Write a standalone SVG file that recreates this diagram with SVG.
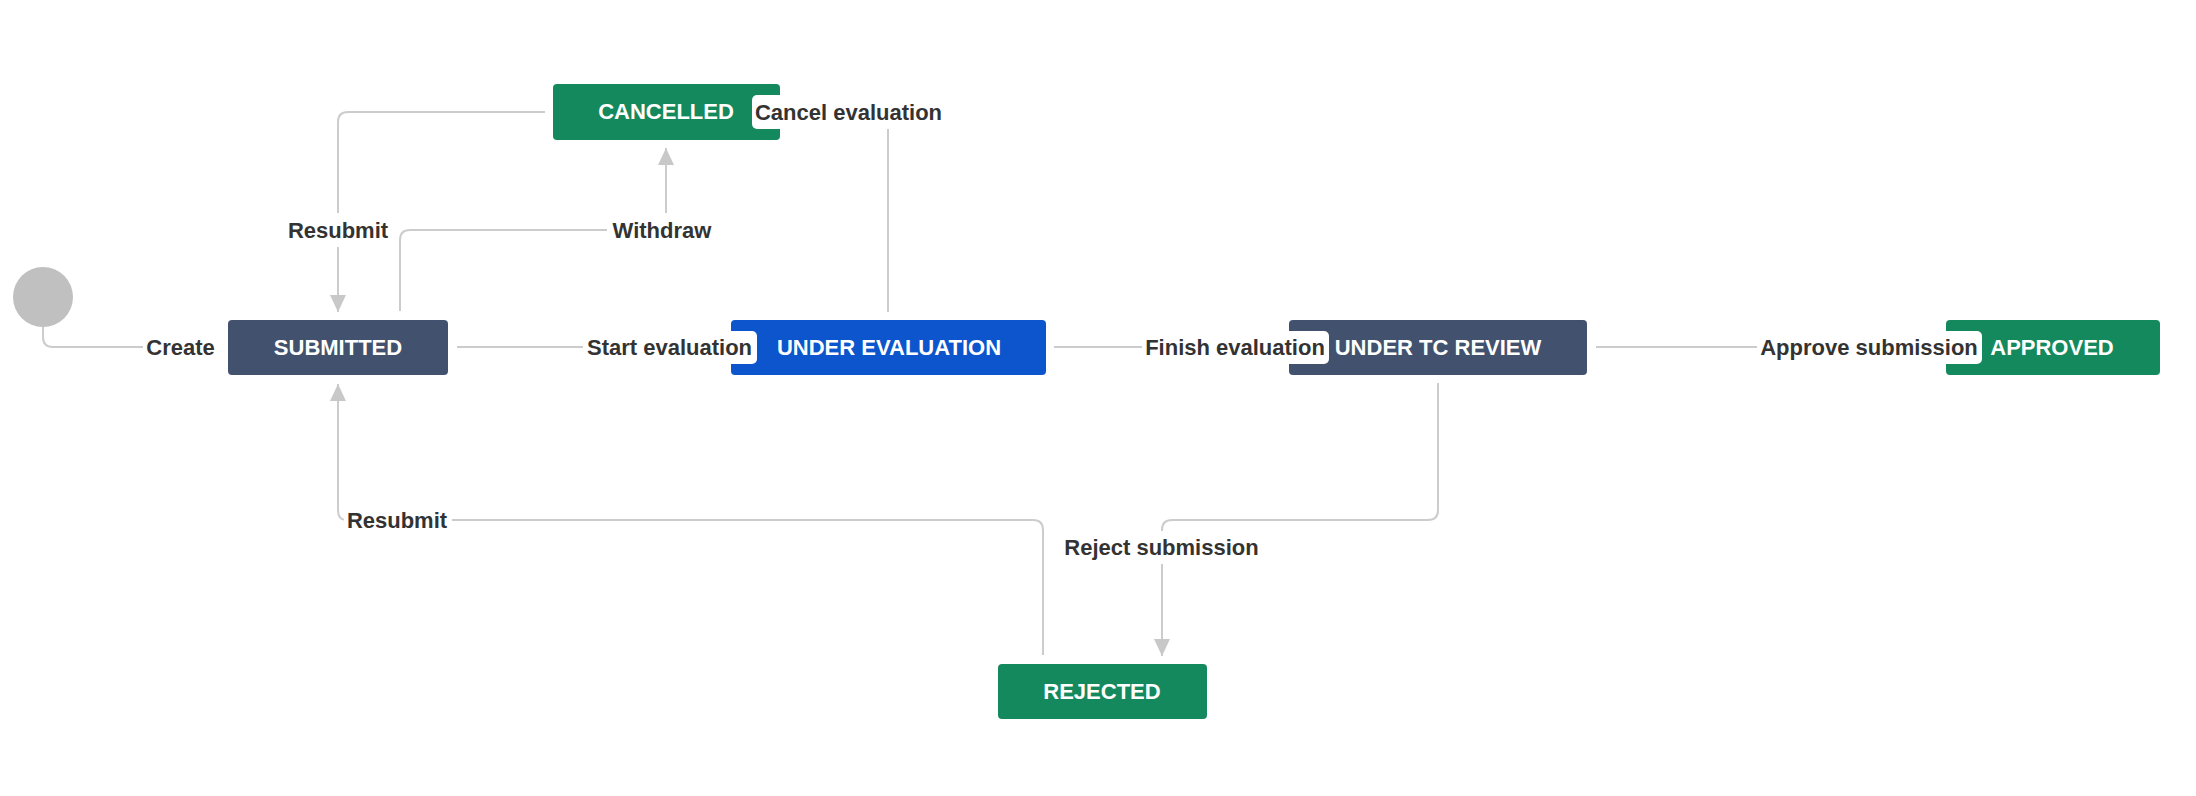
<svg xmlns="http://www.w3.org/2000/svg" width="2196" height="796" viewBox="0 0 2196 796">
<defs>
<marker id="arr" markerUnits="userSpaceOnUse" markerWidth="18" markerHeight="18" viewBox="0 0 18 18" refX="17" refY="9" orient="auto">
<path d="M0,1 L17,9 L0,17 Z" fill="#c8c8c8"/>
</marker>
</defs>
<style>
.box{stroke:none}
.dark{fill:#42526e}
.blue{fill:#0c55cc}
.green{fill:#14895d}
.nt{font-family:"Liberation Sans",Arial,sans-serif;font-weight:bold;font-size:22px;fill:#ffffff;text-anchor:middle}
.lt{font-family:"Liberation Sans",Arial,sans-serif;font-weight:bold;font-size:22px;fill:#333333;text-anchor:middle}
.lb{fill:#ffffff;rx:5}
.c{fill:none;stroke:#cccccc;stroke-width:2}
</style>
<rect width="2196" height="796" fill="#ffffff"/>
<g id="connectors">
<path class="c" d="M43,327 V337 Q43,347 53,347 H143"/>
<path class="c" d="M457,347 H584"/>
<path class="c" d="M1054,347 H1142"/>
<path class="c" d="M1596,347 H1757"/>
<path class="c" d="M888,312 V129"/>
<path class="c" d="M400,311 V240 Q400,230 410,230 H607"/>
<path class="c" d="M666,213 V148" marker-end="url(#arr)"/>
<path class="c" d="M545,112 H348 Q338,112 338,122 V213"/>
<path class="c" d="M338,247 V312" marker-end="url(#arr)"/>
<path class="c" d="M1043,655 V530 Q1043,520 1033,520 H452"/>
<path class="c" d="M346,520 Q338,520 338,510 V384" marker-end="url(#arr)"/>
<path class="c" d="M1438,383 V510 Q1438,520 1428,520 H1172 Q1162,520 1162,530 V531"/>
<path class="c" d="M1162,563 V656" marker-end="url(#arr)"/>
</g>
<g id="start"><circle cx="43" cy="297" r="30" fill="#c0c0c0"/></g>
<g id="submitted"><rect class="box dark" x="228" y="320" width="220" height="55" rx="4"/><text class="nt" x="338" y="355">SUBMITTED</text></g>
<g id="cancelled"><rect class="box green" x="553" y="84" width="227" height="56" rx="4"/><text class="nt" x="666" y="119">CANCELLED</text></g>
<g id="under-evaluation"><rect class="box blue" x="731" y="320" width="315" height="55" rx="4"/><text class="nt" x="889" y="355">UNDER EVALUATION</text></g>
<g id="under-tc-review"><rect class="box dark" x="1289" y="320" width="298" height="55" rx="4"/><text class="nt" x="1438" y="355">UNDER TC REVIEW</text></g>
<g id="approved"><rect class="box green" x="1946" y="320" width="214" height="55" rx="4"/><text class="nt" x="2052" y="355">APPROVED</text></g>
<g id="rejected"><rect class="box green" x="998" y="664" width="209" height="55" rx="4"/><text class="nt" x="1102" y="699">REJECTED</text></g>
<g id="labels">
<g id="l-create"><rect class="lb" x="143" y="331" width="75" height="33"/><text class="lt" x="180.5" y="355">Create</text></g>
<g id="l-start"><rect class="lb" x="583" y="331" width="174" height="33"/><text class="lt" x="669.5" y="355">Start evaluation</text></g>
<g id="l-finish"><rect class="lb" x="1142" y="331" width="187" height="33"/><text class="lt" x="1235" y="355">Finish evaluation</text></g>
<g id="l-approve"><rect class="lb" x="1757" y="331" width="225" height="33"/><text class="lt" x="1869" y="355">Approve submission</text></g>
<g id="l-cancel"><rect class="lb" x="752" y="95" width="193" height="34"/><text class="lt" x="848.5" y="120">Cancel evaluation</text></g>
<g id="l-resubmit1"><rect class="lb" x="284" y="214" width="108" height="33"/><text class="lt" x="338" y="238">Resubmit</text></g>
<g id="l-withdraw"><rect class="lb" x="608" y="214" width="108" height="33"/><text class="lt" x="662" y="238">Withdraw</text></g>
<g id="l-resubmit2"><rect class="lb" x="344" y="504" width="107" height="33"/><text class="lt" x="397" y="528">Resubmit</text></g>
<g id="l-reject"><rect class="lb" x="1061" y="531" width="201" height="33"/><text class="lt" x="1161.5" y="555">Reject submission</text></g>
</g>
</svg>
